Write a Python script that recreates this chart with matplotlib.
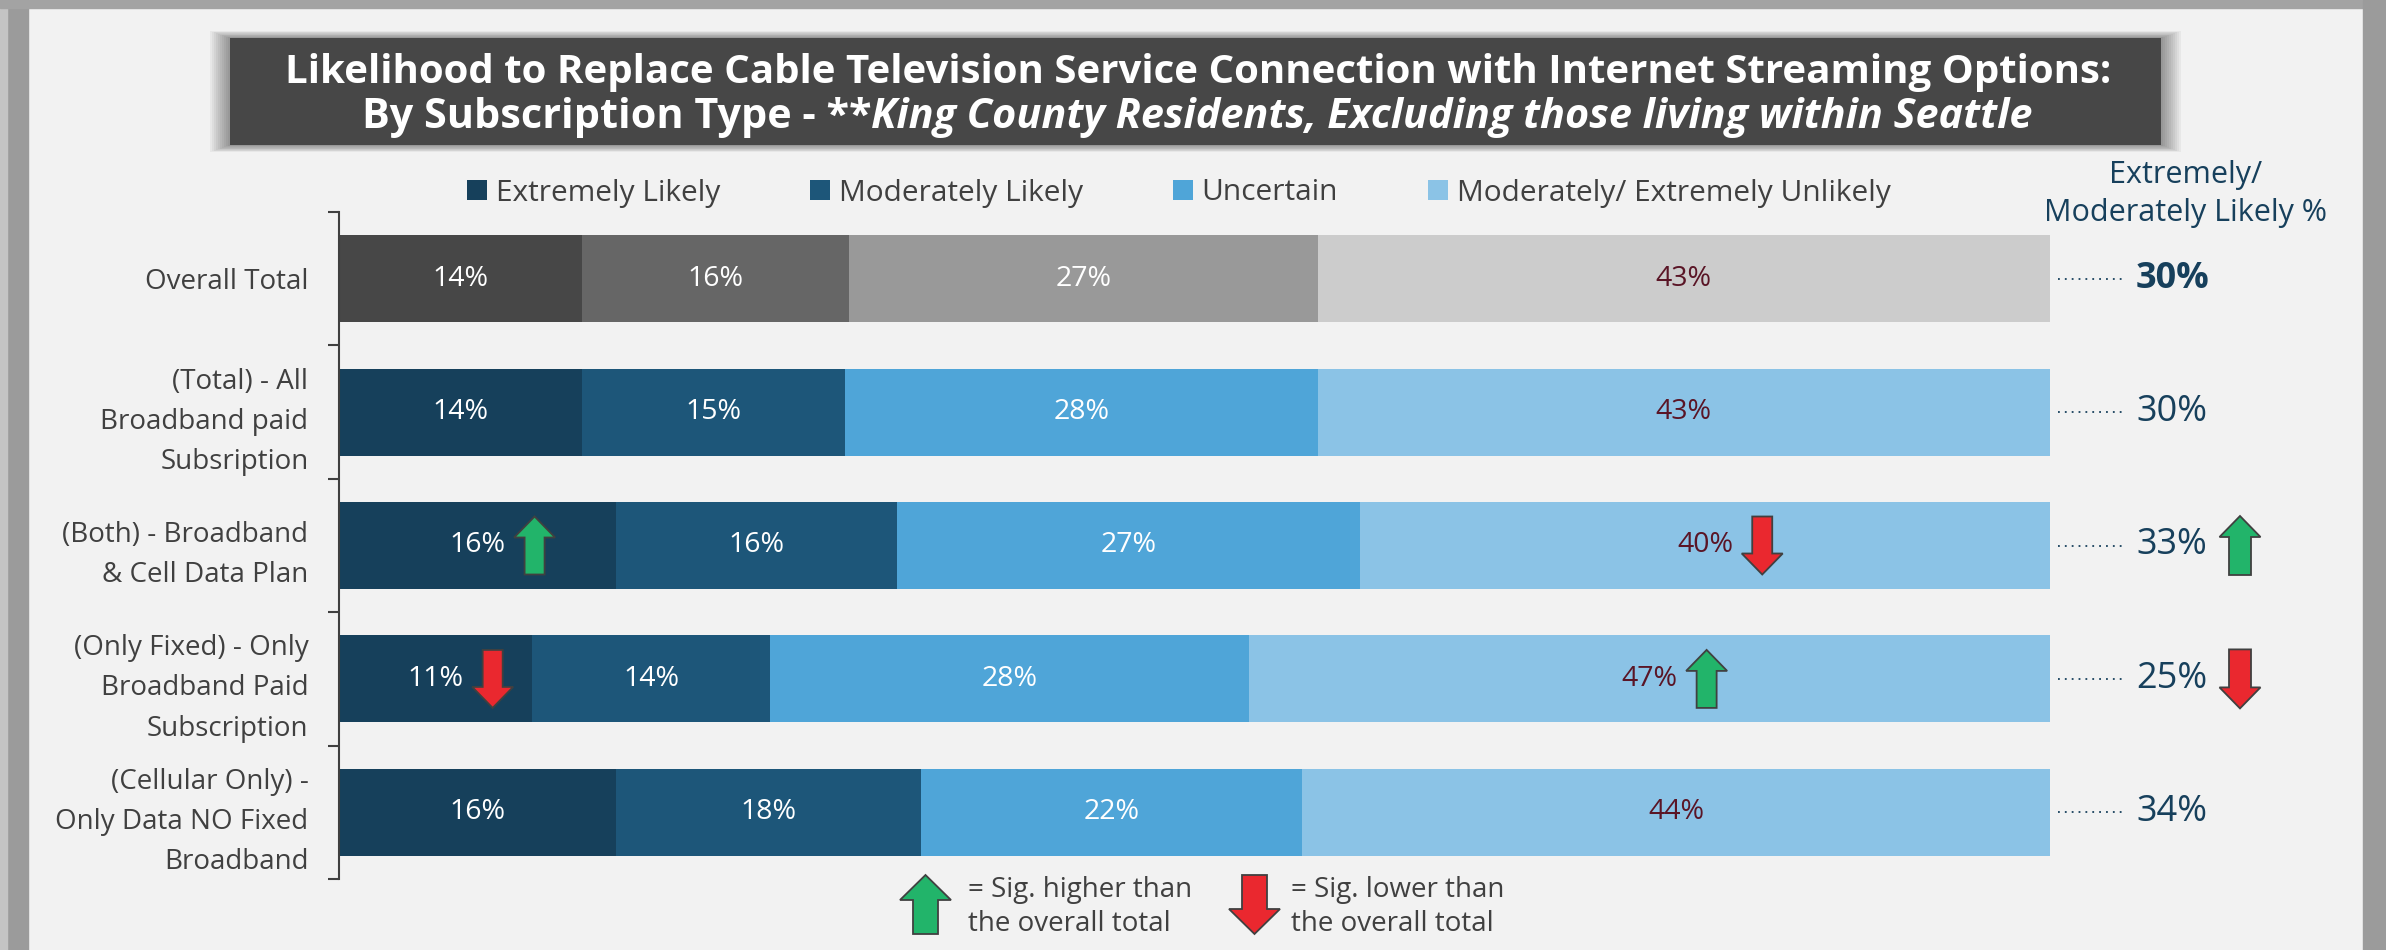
import matplotlib.pyplot as plt
import numpy as np
from matplotlib.patches import Patch, Polygon, Rectangle
from matplotlib.transforms import ScaledTranslation, blended_transform_factory

plt.rcParams['font.family'] = ['Open Sans', 'DejaVu Sans']

# data
categories = ['Overall Total',
              '(Total) - All\nBroadband paid\nSubsription',
              '(Both) - Broadband\n& Cell Data Plan',
              '(Only Fixed) - Only\nBroadband Paid\nSubscription',
              '(Cellular Only) -\nOnly Data NO Fixed\nBroadband']
series_names = ['Extremely Likely', 'Moderately Likely', 'Uncertain',
                'Moderately/ Extremely Unlikely']
extremely = [14.2, 14.2, 16.2, 11.3, 16.2]
moderately = [15.6, 15.4, 16.4, 13.9, 17.8]
uncertain = [27.4, 27.6, 27.1, 28.0, 22.3]
unlikely = [42.8, 42.8, 40.3, 46.8, 43.7]
net_likely = [e + m for e, m in zip(extremely, moderately)]

# significance flags: (row, segment, direction)
sig_cells = [(2, 0, 'up'), (2, 3, 'down'), (3, 0, 'down'), (3, 3, 'up')]
sig_net = [None, None, 'up', 'down', None]

blues = ['#16405b', '#1d5679', '#4fa5d8', '#8bc3e6']
grays = ['#474747', '#666666', '#999999', '#cccccc']
label_colors = ['white', 'white', 'white', '#5a1526']
text_dark = '#404040'
navy = '#17405c'
green = '#22b46a'
red = '#ea282f'

W, H = 2386, 950
fig = plt.figure(figsize=(W / 100, H / 100), dpi=100, facecolor='#f2f2f2')


def fx(x):
    return x / W


def fy(y):
    return 1 - y / H


def block_arrow(x, y, trans, direction, color, w=41, h=58, shaft=20, head=21, dx=0):
    # block arrow drawn in pixels around an anchor given in `trans` coords
    hw, sw, top = w / 2, shaft / 2, h / 2
    pts = [(-sw, -top), (sw, -top), (sw, top - head), (hw, top - head),
           (0, top), (-hw, top - head), (-sw, top - head)]
    s = 1 if direction == 'up' else -1
    verts = [((px + dx) / 100, s * py / 100) for px, py in pts]
    tr = fig.dpi_scale_trans + ScaledTranslation(x, y, trans)
    fig.add_artist(Polygon(verts, closed=True, facecolor=color, edgecolor='#404040',
                           lw=1.3, transform=tr, zorder=6))


# panel frame
fig.add_artist(Rectangle((0, 0), fx(28), 1, transform=fig.transFigure,
                         color='#9b9b9b', zorder=0))
fig.add_artist(Rectangle((0, 0), fx(7), 1, transform=fig.transFigure,
                         color='#c4c4c4', zorder=0))
fig.add_artist(Rectangle((0, fy(8)), 1, 8 / H, transform=fig.transFigure,
                         color='#a3a3a3', zorder=0))
fig.add_artist(Rectangle((fx(2363), 0), 23 / W, 1, transform=fig.transFigure,
                         color='#9b9b9b', zorder=0))

# title box with soft shadow
bx, by, bw, bh = 230, 145, 1931, 107
for k in range(10, 0, -1):
    px, py = 2.0 * k, 0.7 * k
    fig.add_artist(Rectangle((fx(bx - px), fy(by + py)), (bw + 2 * px) / W, (bh + 2 * py) / H,
                             transform=fig.transFigure, color='black', alpha=0.045, lw=0, zorder=1))
fig.add_artist(Rectangle((fx(bx), fy(by)), bw / W, bh / H, transform=fig.transFigure,
                         color='#474747', lw=0, zorder=2))

fig.text(fx(1198), fy(72), 'Likelihood to Replace Cable Television Service Connection with Internet Streaming Options:',
         ha='center', va='center', fontsize=29, fontweight='bold', color='white', zorder=3)
t_a = fig.text(0, fy(118), 'By Subscription Type - **', ha='left', va='center',
               fontsize=29.8, fontweight='bold', color='white', zorder=3)
t_b = fig.text(0, fy(118), 'King County Residents, Excluding those living within Seattle',
               ha='left', va='center', fontsize=29.8, fontweight='bold', style='italic',
               color='white', zorder=3)
renderer = fig.canvas.get_renderer()
wa = t_a.get_window_extent(renderer).width
wb = t_b.get_window_extent(renderer).width
x0 = 1197 - (wa + wb) / 2
t_a.set_x(fx(x0))
t_b.set_x(fx(x0 + wa))

# main bars
ax = fig.add_axes([339 / W, 71 / H, 1711 / W, 667 / H])
ax.set_facecolor('none')
n = len(categories)
y = np.arange(n)
left = np.zeros(n)
centers = np.zeros((n, 4))
for i, vals in enumerate([extremely, moderately, uncertain, unlikely]):
    vals = np.array(vals)
    colors = [grays[i]] + [blues[i]] * (n - 1)
    ax.barh(y, vals, left=left, height=0.652, color=colors, lw=0)
    centers[:, i] = left + vals / 2
    for j in range(n):
        ax.text(centers[j, i], j, f'{vals[j]:.0f}%', ha='center', va='center',
                fontsize=20.5, color=label_colors[i])
    left += vals

ax.set_xlim(0, 100)
ax.set_ylim(n - 0.5, -0.5)
ax.set_xticks([])
ax.set_yticks(y, categories, linespacing=1.58)
ax.set_yticks(np.arange(n + 1) - 0.5, minor=True)
ax.tick_params(axis='y', which='major', length=0, pad=22, labelsize=20, labelcolor=text_dark)
ax.tick_params(axis='y', which='minor', length=8, width=1.5, color=text_dark)
for side in ['top', 'right', 'bottom']:
    ax.spines[side].set_visible(False)
ax.spines['left'].set_color(text_dark)
ax.spines['left'].set_linewidth(1.5)

# significance arrows inside bars
for r, seg, d in sig_cells:
    block_arrow(centers[r, seg], r, ax.transData, d, green if d == 'up' else red, dx=57)

# net likely column
tr_r = blended_transform_factory(ax.transAxes, ax.transData)
for j in range(n):
    ax.plot([1 + 8 / 1711, 1 + 72 / 1711], [j, j], transform=tr_r, ls=(0, (1, 2.8)),
            color=navy, lw=1.3, clip_on=False)
    ax.text(1 + 86 / 1711, j, f'{net_likely[j]:.0f}%', transform=tr_r, ha='left', va='center',
            fontsize=26, color=navy, fontweight='bold' if j == 0 else 'normal')
    if sig_net[j]:
        block_arrow(1 + 190 / 1711, j, tr_r, sig_net[j], green if sig_net[j] == 'up' else red,
                    h=59, shaft=22)
fig.text(fx(2186), fy(194), 'Extremely/\nModerately Likely %', ha='center', va='center',
         fontsize=22, color=navy, linespacing=1.36)

# series legend
ax.legend(handles=[Patch(facecolor=c) for c in blues], labels=series_names,
          loc='center left', bbox_to_anchor=(fx(467), fy(193)), bbox_transform=fig.transFigure,
          ncol=4, frameon=False, fontsize=21.5, handlelength=0.67, handleheight=0.67,
          handletextpad=0.3, columnspacing=3.0, borderpad=0, borderaxespad=0,
          labelcolor=text_dark)

# significance key
block_arrow(fx(925.5), fy(904.5), fig.transFigure, 'up', green, w=51, h=59, shaft=25, head=25)
fig.text(fx(968), fy(907), '= Sig. higher than\nthe overall total', ha='left', va='center',
         fontsize=20, color=text_dark, linespacing=1.26)
block_arrow(fx(1254.5), fy(904.5), fig.transFigure, 'down', red, w=51, h=59, shaft=25, head=25)
fig.text(fx(1291), fy(907), '= Sig. lower than\nthe overall total', ha='left', va='center',
         fontsize=20, color=text_dark, linespacing=1.26)

fig.savefig('out.png', dpi=100, facecolor=fig.get_facecolor())
